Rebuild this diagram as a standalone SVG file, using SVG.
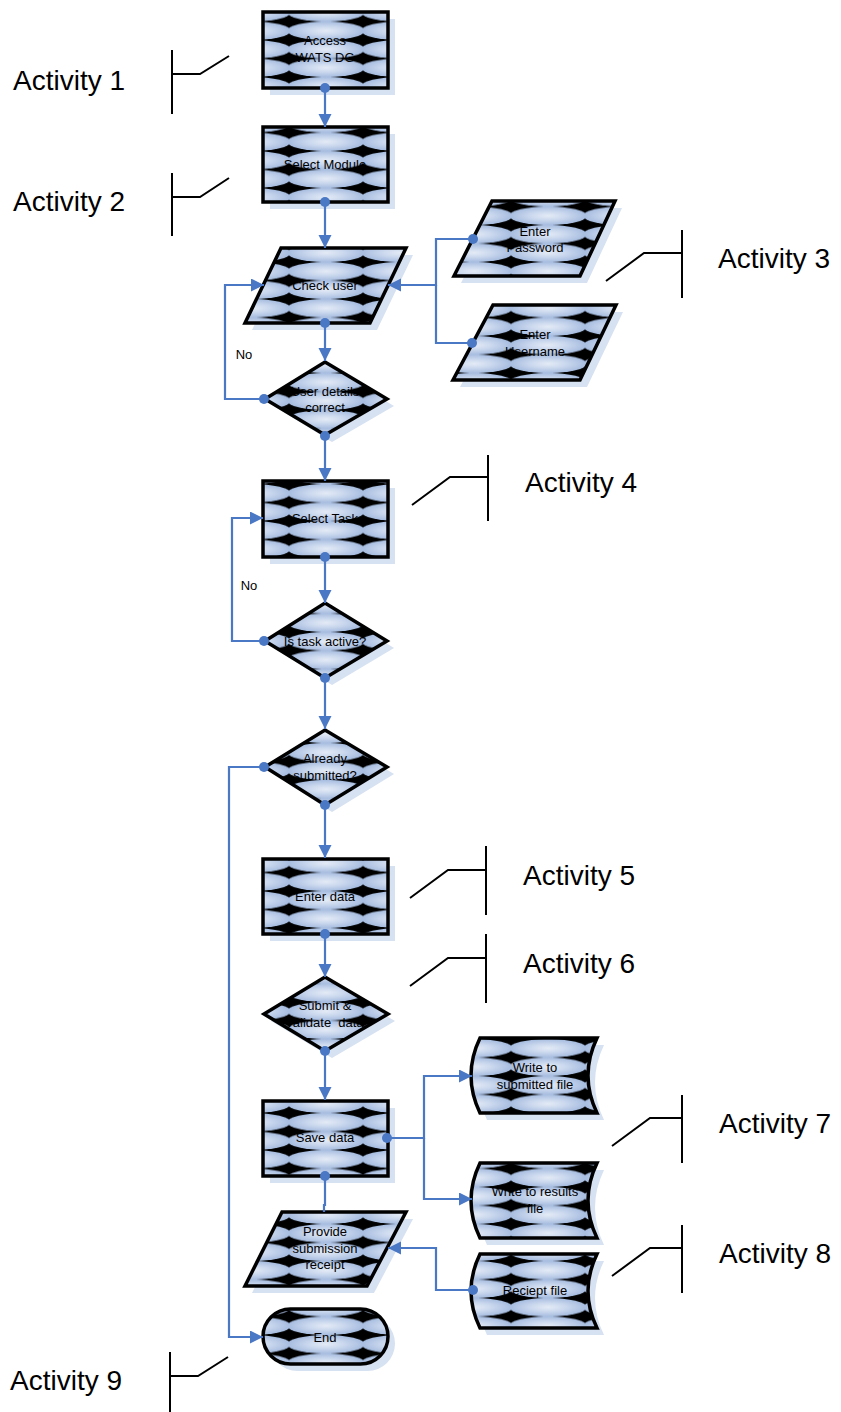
<svg xmlns="http://www.w3.org/2000/svg" width="841" height="1412" viewBox="0 0 841 1412">
<style>
.shape{fill:url(#fillpat);stroke:#000;stroke-width:3.5;stroke-linejoin:miter}
.shadow{fill:#d6e1f1;stroke:none}
.lbl{font-family:"Liberation Sans",Arial,sans-serif;font-size:13px;fill:#000;text-anchor:middle}
.act{font-family:"Liberation Sans",Arial,sans-serif;font-size:28px;fill:#000}
.ann{fill:none;stroke:#000;stroke-width:2}
.conn{fill:none;stroke:#4a78c4;stroke-width:2.2}
</style>
<defs>
<radialGradient id="ellg" cx="0.5" cy="0.5" r="0.5">
<stop offset="0" stop-color="#e4ebf6"/>
<stop offset="0.5" stop-color="#c8d6ed"/>
<stop offset="1" stop-color="#a6bcdf"/>
</radialGradient>
<pattern id="fillpat" patternUnits="userSpaceOnUse" x="-7" y="3" width="74" height="18.5">
<rect width="74" height="18.5" fill="#000"/>
<ellipse cx="37" cy="9.25" rx="38.6" ry="9.3" fill="url(#ellg)"/>
</pattern>
<marker id="arrow" markerUnits="userSpaceOnUse" markerWidth="16" markerHeight="16" refX="13" refY="6.5" orient="auto">
<path d="M0,0 L13,6.5 L0,13 Z" fill="#4a78c4"/>
</marker>
<marker id="dotm" markerUnits="userSpaceOnUse" markerWidth="12" markerHeight="12" refX="6" refY="6" orient="auto">
<circle cx="6" cy="6" r="5" fill="#4a78c4"/>
</marker>
</defs>
<rect width="841" height="1412" fill="#fff"/>

<g id="n-access">
<rect class="shadow" x="270" y="19" width="125" height="76"/>
<rect class="shape" x="263" y="12" width="125" height="76"/>
<text class="lbl" x="325" y="45">Access</text>
<text class="lbl" x="325" y="62">WATS DG</text>
</g>
<g id="n-module">
<rect class="shadow" x="270" y="134" width="125" height="75"/>
<rect class="shape" x="263" y="127" width="125" height="75"/>
<text class="lbl" x="325" y="169">Select Module</text>
</g>
<g id="n-checkuser">
<path class="shadow" d="M288,255 H413 L377,330 H252 Z"/>
<path class="shape" d="M281,248 H406 L370,323 H245 Z"/>
<text class="lbl" x="325" y="290">Check user</text>
</g>
<g id="n-password">
<path class="shadow" d="M499,208 H622 L587,283 H461 Z"/>
<path class="shape" d="M492,201 H615 L580,276 H454 Z"/>
<text class="lbl" x="535" y="236">Enter</text>
<text class="lbl" x="535" y="252">Password</text>
</g>
<g id="n-username">
<path class="shadow" d="M500,312 H623 L587,387 H460 Z"/>
<path class="shape" d="M493,305 H616 L580,380 H453 Z"/>
<text class="lbl" x="535" y="339">Enter</text>
<text class="lbl" x="535" y="356">Username</text>
</g>
<g id="n-details">
<path class="shadow" d="M332,369 L394,406 L332,442 L274,406 Z"/>
<path class="shape" d="M325,362 L387,399 L325,435 L265,399 Z"/>
<text class="lbl" x="325" y="396">User details</text>
<text class="lbl" x="325" y="412">correct</text>
</g>
<g id="n-task">
<rect class="shadow" x="270" y="488" width="125" height="76"/>
<rect class="shape" x="263" y="481" width="125" height="76"/>
<text class="lbl" x="325" y="523">Select Task</text>
</g>
<g id="n-active">
<path class="shadow" d="M332,610 L394,648 L332,685 L274,648 Z"/>
<path class="shape" d="M325,603 L387,641 L325,678 L265,641 Z"/>
<text class="lbl" x="325" y="646">Is task active?</text>
</g>
<g id="n-already">
<path class="shadow" d="M332,737 L394,774 L332,812 L274,774 Z"/>
<path class="shape" d="M325,730 L387,767 L325,805 L265,767 Z"/>
<text class="lbl" x="325" y="763">Already</text>
<text class="lbl" x="325" y="780">submitted?</text>
</g>
<g id="n-enterdata">
<rect class="shadow" x="270" y="866" width="125" height="75"/>
<rect class="shape" x="263" y="859" width="125" height="75"/>
<text class="lbl" x="325" y="901">Enter data</text>
</g>
<g id="n-submit">
<path class="shadow" d="M332,984 L395,1021 L332,1058 L271,1021 Z"/>
<path class="shape" d="M325,977 L388,1014 L325,1051 L264,1014 Z"/>
<text class="lbl" x="325" y="1010">Submit &amp;</text>
<text class="lbl" x="325" y="1027" xml:space="preserve">validate  data</text>
</g>
<g id="n-save">
<rect class="shadow" x="270" y="1108" width="125" height="75"/>
<rect class="shape" x="263" y="1101" width="125" height="75"/>
<text class="lbl" x="325" y="1142">Save data</text>
</g>
<g id="n-submittedfile">
<path class="shadow" d="M487,1045 H604 Q586,1082.5 604,1120 H487 Q469,1082.5 487,1045 Z"/>
<path class="shape" d="M480,1038 H597 Q579,1075.5 597,1113 H480 Q462,1075.5 480,1038 Z"/>
<text class="lbl" x="535" y="1072">Write to</text>
<text class="lbl" x="535" y="1089">submitted file</text>
</g>
<g id="n-resultsfile">
<path class="shadow" d="M487,1170 H604 Q586,1207.5 604,1245 H487 Q469,1207.5 487,1170 Z"/>
<path class="shape" d="M480,1163 H597 Q579,1200.5 597,1238 H480 Q462,1200.5 480,1163 Z"/>
<text class="lbl" x="535" y="1196">Write to results</text>
<text class="lbl" x="535" y="1213">file</text>
</g>
<g id="n-recieptfile">
<path class="shadow" d="M487,1261 H604 Q586,1298 604,1335 H487 Q469,1298 487,1261 Z"/>
<path class="shape" d="M480,1254 H597 Q579,1291 597,1328 H480 Q462,1291 480,1254 Z"/>
<text class="lbl" x="535" y="1295">Reciept file</text>
</g>
<g id="n-receipt">
<path class="shadow" d="M289,1219 H413 L374,1293 H252 Z"/>
<path class="shape" d="M282,1212 H406 L367,1286 H245 Z"/>
<text class="lbl" x="325" y="1236">Provide</text>
<text class="lbl" x="325" y="1253">submission</text>
<text class="lbl" x="325" y="1269">receipt</text>
</g>
<g id="n-end">
<rect class="shadow" x="270" y="1316" width="125" height="55" rx="27.5" ry="27.5"/>
<rect class="shape" x="263" y="1309" width="125" height="55" rx="27.5" ry="27.5"/>
<text class="lbl" x="325" y="1342">End</text>
</g>

<g id="connectors">
<path class="conn" marker-start="url(#dotm)" marker-end="url(#arrow)" d="M325,88 V127"/>
<path class="conn" marker-start="url(#dotm)" marker-end="url(#arrow)" d="M325,202 V248"/>
<path class="conn" marker-start="url(#dotm)" marker-end="url(#arrow)" d="M325,323 V361"/>
<path class="conn" marker-start="url(#dotm)" marker-end="url(#arrow)" d="M264,399 H225 V285 H264"/>
<path class="conn" marker-start="url(#dotm)" marker-end="url(#arrow)" d="M473,239 H436 V285 H388"/>
<path class="conn" marker-start="url(#dotm)" d="M472,343 H436 V285"/>
<path class="conn" marker-start="url(#dotm)" marker-end="url(#arrow)" d="M325,436 V481"/>
<path class="conn" marker-start="url(#dotm)" marker-end="url(#arrow)" d="M325,557 V603"/>
<path class="conn" marker-start="url(#dotm)" marker-end="url(#arrow)" d="M264,641 H232 V518 H263"/>
<path class="conn" marker-start="url(#dotm)" marker-end="url(#arrow)" d="M325,678 V729"/>
<path class="conn" marker-start="url(#dotm)" marker-end="url(#arrow)" d="M264,767 H229 V1337 H263"/>
<path class="conn" marker-start="url(#dotm)" marker-end="url(#arrow)" d="M325,805 V858"/>
<path class="conn" marker-start="url(#dotm)" marker-end="url(#arrow)" d="M325,934 V977"/>
<path class="conn" marker-start="url(#dotm)" marker-end="url(#arrow)" d="M325,1051 V1100"/>
<path class="conn" marker-start="url(#dotm)" marker-end="url(#arrow)" d="M387,1138 H424 V1076 H472"/>
<path class="conn" marker-end="url(#arrow)" d="M424,1138 V1199 H472"/>
<path class="conn" marker-start="url(#dotm)" d="M325,1176 V1205 H324 V1212"/>
<path class="conn" marker-start="url(#dotm)" marker-end="url(#arrow)" d="M473,1290 H436 V1248 H388"/>
<text class="lbl" x="244" y="359">No</text>
<text class="lbl" x="249" y="590">No</text>
</g>

<g id="activity1">
<path class="ann" d="M172,50 V114 M172,74 H200 L229,56"/>
<text class="act" x="13" y="90">Activity 1</text>
</g>
<g id="activity2">
<path class="ann" d="M172,173 V236 M172,197 H200 L229,178"/>
<text class="act" x="13" y="211">Activity 2</text>
</g>
<g id="activity3">
<path class="ann" d="M682,230 V298 M682,253 H644 L606,281"/>
<text class="act" x="718" y="268">Activity 3</text>
</g>
<g id="activity4">
<path class="ann" d="M488,455 V521 M488,477 H450 L412,505"/>
<text class="act" x="525" y="492">Activity 4</text>
</g>
<g id="activity5">
<path class="ann" d="M486,846 V915 M486,870 H448 L410,898"/>
<text class="act" x="523" y="885">Activity 5</text>
</g>
<g id="activity6">
<path class="ann" d="M486,934 V1003 M486,958 H448 L410,986"/>
<text class="act" x="523" y="973">Activity 6</text>
</g>
<g id="activity7">
<path class="ann" d="M682,1095 V1163 M682,1118 H650 L612,1146"/>
<text class="act" x="719" y="1133">Activity 7</text>
</g>
<g id="activity8">
<path class="ann" d="M682,1225 V1293 M682,1248 H650 L612,1276"/>
<text class="act" x="719" y="1263">Activity 8</text>
</g>
<g id="activity9">
<path class="ann" d="M170,1352 V1412 M170,1376 H198 L228,1357"/>
<text class="act" x="10" y="1390">Activity 9</text>
</g>
</svg>
